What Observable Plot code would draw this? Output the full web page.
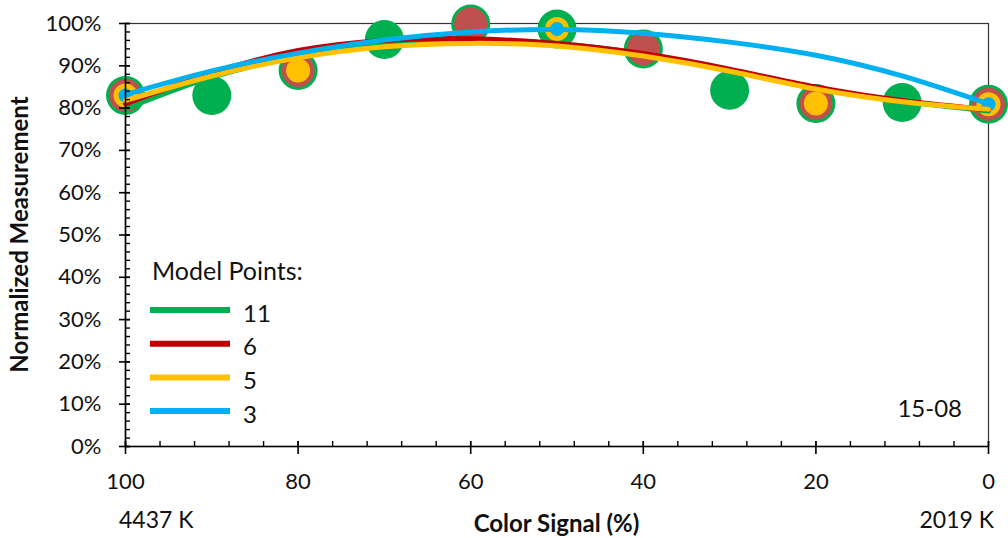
<!DOCTYPE html>
<html>
<head>
<meta charset="utf-8">
<script src="https://cdn.jsdelivr.net/npm/d3@7"></script>
<script src="https://cdn.jsdelivr.net/npm/@observablehq/plot@0.6"></script>
<style>
  body { margin: 0; background: #fff; }
  #chart svg { font-family: Lato, "Open Sans", sans-serif; overflow: visible; }
</style>
</head>
<body>
<div id="chart"></div>
<script>
// ---- data ----
const signal = [100, 90, 80, 70, 60, 50, 40, 30, 20, 10, 0];
const measured = [83.0, 83.0, 88.9, 96.2, 99.9, 98.7, 94.0, 84.2, 81.1, 81.3, 80.9];
const points6 = [100, 80, 60, 40, 20, 0];
const points5 = [100, 80, 50, 20, 0];
const points3 = [100, 50, 0];
// fitted model curves at each signal step
const fit11 = [79.8, 87.3, 92.2, 95.2, 96.0, 95.2, 92.8, 89.0, 84.8, 81.6, 79.3];
const fit6  = [81.0, 88.3, 93.6, 96.0, 96.4, 95.3, 92.9, 89.2, 85.0, 81.8, 79.6];
const fit5  = [81.8, 87.6, 91.9, 94.5, 95.3, 94.7, 92.3, 88.7, 84.5, 81.5, 79.7];
const fit3  = [83.2, 88.8, 93.0, 96.1, 98.0, 98.6, 97.7, 95.6, 92.5, 87.6, 81.0];
const seriesNames = ["11", "6", "5", "3"];
const seriesColors = ["#00B050", "#C00000", "#FFC000", "#00B0F0"];
const yTicks = [0, 10, 20, 30, 40, 50, 60, 70, 80, 90, 100];
const xTicks = [100, 80, 60, 40, 20, 0];
const xMinor = [100, 96, 92, 88, 84, 80, 76, 72, 68, 64, 60, 56, 52, 48, 44, 40, 36, 32, 28, 24, 20, 16, 12, 8, 4, 0];
const yMinor = d3.range(0, 101, 2);
const kelvinLeft = "4437 K";
const kelvinRight = "2019 K";
const sampleId = "15-08";

// ---- derived tables ----
const valueAt = s => measured[signal.indexOf(s)];
const allPts = signal.map((s, i) => ({x: s, y: measured[i]}));
const pts6 = points6.map(s => ({x: s, y: valueAt(s)}));
const pts5 = points5.map(s => ({x: s, y: valueAt(s)}));
const pts3 = points3.map(s => ({x: s, y: valueAt(s)}));
const fits = [fit11, fit6, fit5, fit3].map(f => signal.map((s, i) => ({x: s, y: f[i]})));

const FONT = 22;
const plot = Plot.plot({
  width: 1008,
  height: 538,
  marginLeft: 125,
  marginRight: 20,
  marginTop: 23,
  marginBottom: 92,
  style: {fontSize: FONT + "px", fontFamily: "Lato, sans-serif", color: "#000", background: "#fff"},
  x: {domain: [100, 0]},
  y: {domain: [0, 100]},
  marks: [
    Plot.frame({stroke: "#333", strokeWidth: 1.2}),
    // markers (nested)
    Plot.dot(allPts, {x: "x", y: "y", r: 19.5, fill: "#00B050"}),
    Plot.dot(pts6, {x: "x", y: "y", r: 16.5, fill: "#C0504D"}),
    Plot.dot(pts5, {x: "x", y: "y", r: 12, fill: "#FFC000"}),
    Plot.dot(pts3, {x: "x", y: "y", r: 7, fill: "#00B0F0"}),
    // fitted curves
    ...fits.map((d, i) => Plot.line(d, {x: "x", y: "y", stroke: seriesColors[i], strokeWidth: 5, curve: "natural"})),
    // axis lines
    Plot.ruleX([100], {stroke: "#000", strokeWidth: 1.6}),
    Plot.ruleY([0], {stroke: "#000", strokeWidth: 1.6}),
    // y axis ticks
    Plot.axisY({ticks: yMinor, tickSize: 5, dx: 5, tickFormat: () => "", label: null, stroke: "#000", strokeWidth: 1.4}),
    Plot.axisY({ticks: yTicks, tickSize: 11, dx: 5, tickFormat: () => "", label: null, stroke: "#000", strokeWidth: 1.6}),
    Plot.axisY({ticks: yTicks, tickSize: 0, tickPadding: 24, tickFormat: d => d + "%", label: null, fill: "#111"}),
    // x axis ticks
    Plot.axisX({ticks: xMinor, tickSize: 5, dy: -5, tickFormat: () => "", label: null, stroke: "#000", strokeWidth: 1.4}),
    Plot.axisX({ticks: xTicks, tickSize: 13, dy: -5, tickFormat: () => "", label: null, stroke: "#000", strokeWidth: 1.6}),
    Plot.axisX({ticks: xTicks, tickSize: 0, tickPadding: 27, tickFormat: d => String(d), label: null, fill: "#111"})
  ]
});
document.getElementById("chart").appendChild(plot);

// ---- annotations using the plot's scales ----
const sx = plot.scale("x"), sy = plot.scale("y");
const svg = d3.select(plot);
const g = svg.append("g").attr("font-family", "Lato, sans-serif").attr("fill", "#111").attr("text-anchor", "start");
const xL = sx.apply(100), xR = sx.apply(0), yT = sy.apply(100), yB = sy.apply(0);

g.append("text").attr("transform", `translate(18,${(yT + yB) / 2}) rotate(-90)`)
  .attr("text-anchor", "middle").attr("dominant-baseline", "central")
  .attr("font-weight", "bold").attr("font-size", 24).text("Normalized Measurement");
g.append("text").attr("x", (xL + xR) / 2).attr("y", yB + 76)
  .attr("text-anchor", "middle").attr("dominant-baseline", "central")
  .attr("font-weight", "bold").attr("font-size", 24).text("Color Signal (%)");
g.append("text").attr("x", xL - 6).attr("y", yB + 73).attr("text-anchor", "start")
  .attr("dominant-baseline", "central").attr("font-size", 23).text(kelvinLeft);
g.append("text").attr("x", xR + 6).attr("y", yB + 73).attr("text-anchor", "end")
  .attr("dominant-baseline", "central").attr("font-size", 23).text(kelvinRight);
g.append("text").attr("x", xR - 26).attr("y", yB - 39).attr("text-anchor", "end")
  .attr("dominant-baseline", "central").attr("font-size", 24).text(sampleId);

// legend
const lg = g.append("g").attr("transform", `translate(${xL + 25},${yB - 176})`);
lg.append("text").attr("x", 2).attr("y", 0).attr("text-anchor", "start").attr("dominant-baseline", "central")
  .attr("font-size", 25).text("Model Points:");
seriesNames.forEach((name, i) => {
  const yy = 40 + i * 33.7;
  lg.append("line").attr("x1", 0).attr("x2", 80).attr("y1", yy).attr("y2", yy)
    .attr("stroke", seriesColors[i]).attr("stroke-width", 6);
  lg.append("text").attr("x", 93).attr("y", yy + 2).attr("text-anchor", "start").attr("dominant-baseline", "central")
    .attr("font-size", 24).text(name);
});
</script>
</body>
</html>
